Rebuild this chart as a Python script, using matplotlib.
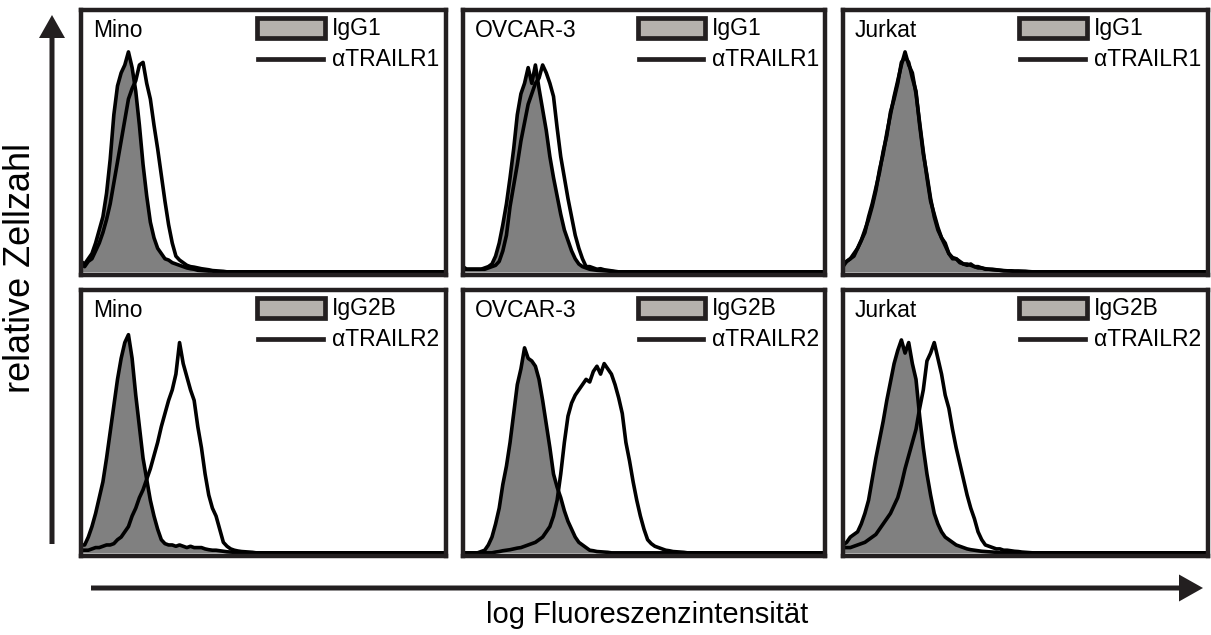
import matplotlib
matplotlib.use('Agg')
import matplotlib.pyplot as plt
from matplotlib.patches import Rectangle, FancyArrow

plt.rcParams['font.family'] = ['Liberation Sans', 'DejaVu Sans']

# log fluorescence channel (percent of the axis), relative cell count per channel
channels = list(range(0, 65)) + [100]

cell_lines = ['Mino', 'OVCAR-3', 'Jurkat']
isotypes = ['IgG1', 'IgG2B']
antibodies = ['αTRAILR1', 'αTRAILR2']

mino_igg1 = [0.04, 0.03, 0.05, 0.07, 0.11, 0.16, 0.21, 0.30, 0.43, 0.60,
             0.71, 0.76, 0.79, 0.84, 0.78, 0.69, 0.56, 0.41, 0.29, 0.19,
             0.13, 0.09, 0.07, 0.05, 0.045, 0.035, 0.03, 0.025, 0.02, 0.015,
             0.012, 0.01, 0.006, 0.005, 0.004, 0.003, 0.003, 0, 0, 0,
             0, 0, 0, 0, 0, 0, 0, 0, 0, 0,
             0, 0, 0, 0, 0, 0, 0, 0, 0, 0,
             0, 0, 0, 0, 0, 0]
mino_r1 = [0.03, 0.02, 0.04, 0.05, 0.08, 0.11, 0.15, 0.20, 0.26, 0.34,
           0.42, 0.50, 0.58, 0.66, 0.70, 0.73, 0.79, 0.80, 0.72, 0.66,
           0.56, 0.47, 0.37, 0.27, 0.18, 0.11, 0.06, 0.045, 0.035, 0.025,
           0.02, 0.018, 0.015, 0.012, 0.01, 0.008, 0.005, 0.004, 0.003, 0.002,
           0, 0, 0, 0, 0, 0, 0, 0, 0, 0,
           0, 0, 0, 0, 0, 0, 0, 0, 0, 0,
           0, 0, 0, 0, 0, 0]
mino_igg2b = [0.03, 0.03, 0.06, 0.10, 0.15, 0.21, 0.27, 0.36, 0.46, 0.56,
              0.66, 0.74, 0.80, 0.83, 0.74, 0.60, 0.48, 0.36, 0.28, 0.20,
              0.14, 0.09, 0.05, 0.035, 0.03, 0.03, 0.025, 0.03, 0.025, 0.02,
              0.025, 0.02, 0.02, 0.02, 0.015, 0.012, 0.01, 0.01, 0.008, 0.006,
              0.004, 0.003, 0.002, 0, 0, 0, 0, 0, 0, 0,
              0, 0, 0, 0, 0, 0, 0, 0, 0, 0,
              0, 0, 0, 0, 0, 0]
mino_r2 = [0.01, 0.01, 0.01, 0.015, 0.02, 0.02, 0.025, 0.03, 0.03, 0.035,
           0.05, 0.06, 0.08, 0.10, 0.14, 0.17, 0.21, 0.24, 0.28, 0.32,
           0.37, 0.42, 0.48, 0.53, 0.58, 0.62, 0.68, 0.80, 0.72, 0.67,
           0.62, 0.58, 0.48, 0.40, 0.30, 0.22, 0.17, 0.14, 0.09, 0.04,
           0.025, 0.015, 0.01, 0.007, 0.005, 0.004, 0.003, 0.002, 0, 0,
           0, 0, 0, 0, 0, 0, 0, 0, 0, 0,
           0, 0, 0, 0, 0, 0]

ovcar_igg1 = [0.02, 0.01, 0.01, 0.01, 0.01, 0.01, 0.015, 0.02, 0.03, 0.06,
              0.11, 0.18, 0.26, 0.36, 0.47, 0.60, 0.68, 0.72, 0.78, 0.72,
              0.79, 0.70, 0.62, 0.54, 0.44, 0.36, 0.29, 0.22, 0.16, 0.12,
              0.08, 0.05, 0.03, 0.02, 0.015, 0.01, 0.008, 0.006, 0.005, 0.004,
              0.003, 0.002, 0, 0, 0, 0, 0, 0, 0, 0,
              0, 0, 0, 0, 0, 0, 0, 0, 0, 0,
              0, 0, 0, 0, 0, 0]
ovcar_r1 = [0.01, 0.01, 0.01, 0.01, 0.01, 0.01, 0.01, 0.015, 0.02, 0.025,
            0.04, 0.08, 0.14, 0.25, 0.33, 0.41, 0.50, 0.57, 0.64, 0.68,
            0.72, 0.74, 0.79, 0.76, 0.72, 0.67, 0.55, 0.44, 0.36, 0.28,
            0.21, 0.14, 0.09, 0.05, 0.02, 0.02, 0.015, 0.01, 0.012, 0.008,
            0.006, 0.004, 0.002, 0, 0, 0, 0, 0, 0, 0,
            0, 0, 0, 0, 0, 0, 0, 0, 0, 0,
            0, 0, 0, 0, 0, 0]
ovcar_igg2b = [0, 0, 0, 0, 0, 0.005, 0.01, 0.03, 0.06, 0.11,
               0.17, 0.26, 0.33, 0.42, 0.53, 0.64, 0.70, 0.78, 0.74, 0.73,
               0.71, 0.66, 0.58, 0.49, 0.40, 0.30, 0.25, 0.21, 0.16, 0.12,
               0.09, 0.06, 0.04, 0.03, 0.02, 0.01, 0.008, 0.005, 0.004, 0.003,
               0.002, 0, 0, 0, 0, 0, 0, 0, 0, 0,
               0, 0, 0, 0, 0, 0, 0, 0, 0, 0,
               0, 0, 0, 0, 0, 0]
ovcar_r2 = [0, 0, 0, 0, 0, 0, 0, 0, 0, 0.003,
            0.005, 0.008, 0.01, 0.012, 0.015, 0.018, 0.02, 0.025, 0.03, 0.035,
            0.04, 0.05, 0.06, 0.08, 0.10, 0.14, 0.20, 0.30, 0.42, 0.52,
            0.57, 0.60, 0.62, 0.64, 0.66, 0.65, 0.69, 0.71, 0.68, 0.72,
            0.70, 0.68, 0.64, 0.59, 0.53, 0.42, 0.35, 0.27, 0.20, 0.14,
            0.09, 0.05, 0.035, 0.025, 0.02, 0.015, 0.01, 0.008, 0.005, 0.004,
            0.003, 0.002, 0, 0, 0, 0]

jurkat_igg1 = [0.03, 0.04, 0.05, 0.07, 0.09, 0.12, 0.16, 0.20, 0.25, 0.31,
               0.39, 0.45, 0.53, 0.60, 0.67, 0.73, 0.79, 0.84, 0.79, 0.76,
               0.68, 0.57, 0.46, 0.36, 0.27, 0.22, 0.17, 0.13, 0.10, 0.07,
               0.055, 0.05, 0.04, 0.03, 0.025, 0.03, 0.02, 0.02, 0.015, 0.012,
               0.01, 0.01, 0.008, 0.006, 0.005, 0.004, 0.004, 0.003, 0.003, 0.002,
               0.002, 0.001, 0, 0, 0, 0, 0, 0, 0, 0,
               0, 0, 0, 0, 0, 0]
jurkat_r1 = [0.02, 0.04, 0.05, 0.06, 0.09, 0.12, 0.15, 0.21, 0.26, 0.32,
             0.38, 0.46, 0.52, 0.61, 0.66, 0.72, 0.80, 0.82, 0.80, 0.74,
             0.69, 0.56, 0.45, 0.37, 0.28, 0.21, 0.16, 0.13, 0.11, 0.07,
             0.05, 0.05, 0.035, 0.03, 0.03, 0.025, 0.02, 0.015, 0.015, 0.01,
             0.01, 0.008, 0.007, 0.006, 0.004, 0.004, 0.003, 0.002, 0.002, 0.002,
             0.001, 0, 0, 0, 0, 0, 0, 0, 0, 0,
             0, 0, 0, 0, 0, 0]
jurkat_igg2b = [0.03, 0.04, 0.06, 0.07, 0.08, 0.11, 0.15, 0.20, 0.28, 0.36,
                0.43, 0.50, 0.58, 0.65, 0.72, 0.77, 0.81, 0.76, 0.80, 0.72,
                0.66, 0.52, 0.40, 0.30, 0.22, 0.15, 0.11, 0.08, 0.06, 0.05,
                0.04, 0.03, 0.025, 0.02, 0.015, 0.012, 0.01, 0.008, 0.006, 0.005,
                0.004, 0.003, 0.002, 0, 0, 0, 0, 0, 0, 0,
                0, 0, 0, 0, 0, 0, 0, 0, 0, 0,
                0, 0, 0, 0, 0, 0]
jurkat_r2 = [0.02, 0.02, 0.02, 0.025, 0.03, 0.035, 0.04, 0.05, 0.06, 0.07,
             0.09, 0.11, 0.13, 0.15, 0.18, 0.21, 0.26, 0.32, 0.37, 0.42,
             0.47, 0.55, 0.62, 0.73, 0.76, 0.80, 0.74, 0.68, 0.60, 0.55,
             0.47, 0.40, 0.34, 0.28, 0.22, 0.17, 0.13, 0.08, 0.05, 0.03,
             0.025, 0.02, 0.015, 0.015, 0.01, 0.01, 0.008, 0.006, 0.005, 0.003,
             0.002, 0.001, 0, 0, 0, 0, 0, 0, 0, 0,
             0, 0, 0, 0, 0, 0]

isotype_data = [[mino_igg1, ovcar_igg1, jurkat_igg1],
                [mino_igg2b, ovcar_igg2b, jurkat_igg2b]]
receptor_data = [[mino_r1, ovcar_r1, jurkat_r1],
                 [mino_r2, ovcar_r2, jurkat_r2]]

frame_col = '#231f20'
fill_col = '#808080'
legend_fill = '#b5b1ad'

W, H = 1211, 635
fig = plt.figure(figsize=(W / 100, H / 100), dpi=100)

# panel frames in pixels (left, right), (top, bottom)
cols = [(81, 446), (463, 825), (843, 1208)]
rows = [(10, 275), (290, 556)]

# background layer for the axis arrows
bg = fig.add_axes([0, 0, 1, 1], zorder=0)
bg.set_xlim(0, W)
bg.set_ylim(H, 0)
bg.axis('off')
bg.add_patch(FancyArrow(52, 544, 0, -529, width=5, head_width=26, head_length=23,
                        length_includes_head=True, color=frame_col, lw=0))
bg.add_patch(FancyArrow(91, 588, 1112, 0, width=5, head_width=27, head_length=24,
                        length_includes_head=True, color=frame_col, lw=0))
bg.text(21, 268, 'relative Zellzahl', rotation=90, ha='center', va='center', fontsize=26)
bg.text(647, 615, 'log Fluoreszenzintensität', ha='center', va='center', fontsize=21)

for r, (top, bot) in enumerate(rows):
    for c, (left, right) in enumerate(cols):
        ax = fig.add_axes([left / W, 1 - bot / H, (right - left) / W, (bot - top) / H], zorder=1)
        iso = isotype_data[r][c]
        rec = receptor_data[r][c]
        ax.fill_between(channels, iso, color=fill_col, lw=0)
        ax.plot(channels, iso, color='black', lw=2.6)
        ax.plot(channels, rec, color='black', lw=2.6)
        ax.set_xlim(0, 100)
        ax.set_ylim(-0.012, 1.0)
        ax.set_xticks([])
        ax.set_yticks([])
        for s in ax.spines.values():
            s.set_color(frame_col)
            s.set_linewidth(3.2)

        # legend
        ax.add_patch(Rectangle((0.483, 0.893), 0.185, 0.078, transform=ax.transAxes,
                               facecolor=legend_fill, edgecolor=frame_col, lw=3.4, zorder=5))
        ax.plot([0.485, 0.663], [0.815, 0.815], transform=ax.transAxes,
                color=frame_col, lw=3.4, zorder=5)
        ax.text(0.688, 0.932, isotypes[r], transform=ax.transAxes,
                ha='left', va='center', fontsize=16.5, zorder=5)
        ax.text(0.688, 0.815, antibodies[r], transform=ax.transAxes,
                ha='left', va='center', fontsize=16.5, zorder=5)
        ax.text(0.032, 0.922, cell_lines[c], transform=ax.transAxes,
                ha='left', va='center', fontsize=16.5, zorder=5)

fig.savefig('out.png', dpi=100)
